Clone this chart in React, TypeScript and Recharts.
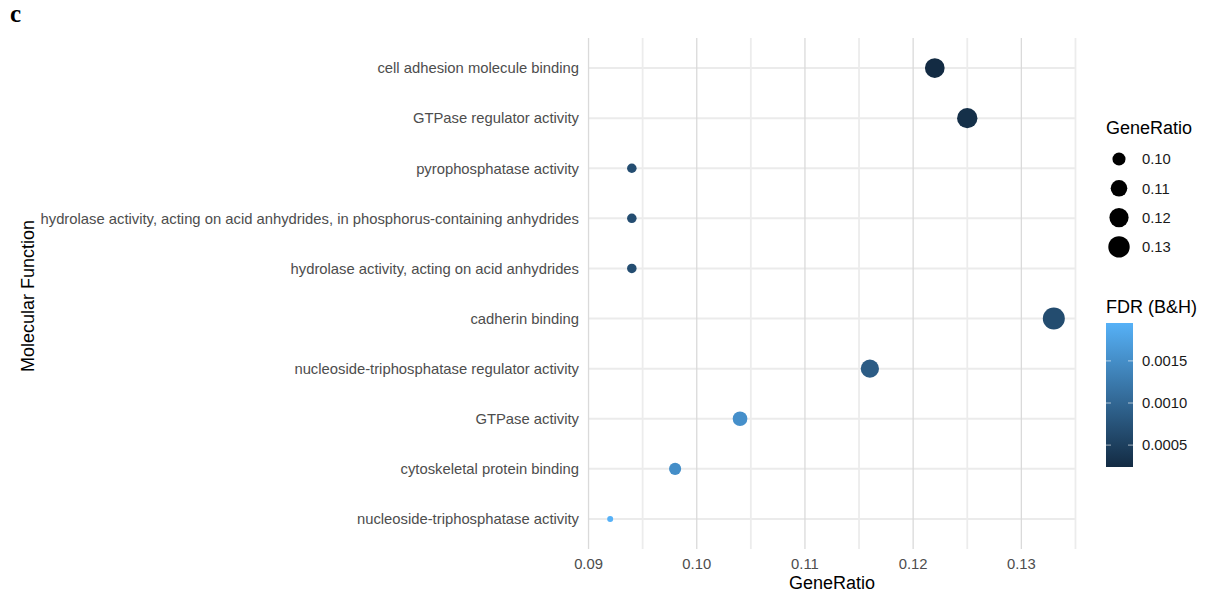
import React from 'react';
import { ScatterChart, Scatter, XAxis, YAxis, CartesianGrid, ReferenceLine, Label } from 'recharts';

// top to bottom, as in the figure
const terms = [
  'cell adhesion molecule binding',
  'GTPase regulator activity',
  'pyrophosphatase activity',
  'hydrolase activity, acting on acid anhydrides, in phosphorus-containing anhydrides',
  'hydrolase activity, acting on acid anhydrides',
  'cadherin binding',
  'nucleoside-triphosphatase regulator activity',
  'GTPase activity',
  'cytoskeletal protein binding',
  'nucleoside-triphosphatase activity',
];
const geneRatio = [0.122, 0.125, 0.094, 0.094, 0.094, 0.133, 0.116, 0.104, 0.098, 0.092];
const fdr = [0.00024, 0.0003, 0.00068, 0.00068, 0.00068, 0.00066, 0.00087, 0.00152, 0.0015, 0.00195];

const xTicks = [0.09, 0.1, 0.11, 0.12, 0.13];
const xMinorTicks = [0.095, 0.105, 0.115, 0.125, 0.135];
const sizeBreaks = [0.1, 0.11, 0.12, 0.13];
const fdrBreaks = [0.0005, 0.001, 0.0015];

const rows = terms.map((term, i) => ({ term, ratio: geneRatio[i], fdr: fdr[i] }));

const FONT = '"Liberation Sans", Arial, Helvetica, sans-serif';
const LOW = [0x13, 0x2b, 0x43];
const HIGH = [0x56, 0xb1, 0xf7];

const rMin = Math.min(...geneRatio);
const rMax = Math.max(...geneRatio);
const fMin = Math.min(...fdr);
const fMax = Math.max(...fdr);

// ggplot-style area scale: radius grows with sqrt of the rescaled value
function radiusOf(v: number) {
  const t = Math.max(0, (v - rMin) / (rMax - rMin));
  return 3 + 8 * Math.sqrt(t);
}

function colorOf(v: number) {
  const t = (v - fMin) / (fMax - fMin);
  const c = LOW.map((lo, k) => Math.round(lo + (HIGH[k] - lo) * t));
  return `rgb(${c[0]},${c[1]},${c[2]})`;
}

function Legends() {
  const barTop = 323;
  const barH = 144;
  const barX = 1106;
  const barW = 27;
  const yOf = (v: number) => barTop + barH - ((v - fMin) / (fMax - fMin)) * barH;
  return (
    <svg width={1205} height={595} style={{ position: 'absolute', left: 0, top: 0, pointerEvents: 'none' }}>
      <defs>
        <linearGradient id="fdrGrad" x1="0" y1="1" x2="0" y2="0">
          <stop offset="0%" stopColor={colorOf(fMin)} />
          <stop offset="50%" stopColor={colorOf((fMin + fMax) / 2)} />
          <stop offset="100%" stopColor={colorOf(fMax)} />
        </linearGradient>
      </defs>
      <text x={10} y={22} fontFamily='"Liberation Serif", "Times New Roman", serif' fontWeight="bold" fontSize={25}>c</text>

      <text x={1106} y={134} fontFamily={FONT} fontSize={18} fill="#000">GeneRatio</text>
      {sizeBreaks.map((v, i) => (
        <g key={v}>
          <circle cx={1119} cy={159 + i * 29.3} r={radiusOf(v)} fill="#000" />
          <text x={1142} y={159 + i * 29.3} dy="0.355em" fontFamily={FONT} fontSize={14.8} fill="#1a1a1a">{v.toFixed(2)}</text>
        </g>
      ))}

      <text x={1106} y={313} fontFamily={FONT} fontSize={18} fill="#000">FDR (B&amp;H)</text>
      <rect x={barX} y={barTop} width={barW} height={barH} fill="url(#fdrGrad)" />
      {fdrBreaks.map((v) => (
        <g key={v}>
          <line x1={barX} x2={barX + 5} y1={yOf(v)} y2={yOf(v)} stroke="#ffffff" strokeOpacity={0.6} strokeWidth={1} />
          <line x1={barX + barW - 5} x2={barX + barW} y1={yOf(v)} y2={yOf(v)} stroke="#ffffff" strokeOpacity={0.6} strokeWidth={1} />
          <text x={1142} y={yOf(v)} dy="0.355em" fontFamily={FONT} fontSize={14.8} fill="#1a1a1a">{v.toFixed(4)}</text>
        </g>
      ))}
    </svg>
  );
}

export default function App() {
  return (
    <div style={{ position: 'absolute', left: 0, top: 0, width: 1205, height: 595, background: '#fff', fontFamily: FONT }}>
      <ScatterChart width={1205} height={595} margin={{ top: 38, right: 129, bottom: 16, left: 0 }}>
        <CartesianGrid vertical={false} syncWithTicks stroke="#ebebeb" strokeWidth={2} />
        {xMinorTicks.map((v) => (
          <ReferenceLine key={v} x={v} stroke="#ececec" strokeWidth={1.8} />
        ))}
        <CartesianGrid horizontal={false} syncWithTicks stroke="#dadada" strokeWidth={1.3} />
        <XAxis
          type="number"
          dataKey="ratio"
          domain={[0.08995, 0.13505]}
          allowDataOverflow
          ticks={xTicks}
          tickFormatter={(v: number) => v.toFixed(2)}
          axisLine={false}
          tickLine={false}
          tickMargin={3}
          height={30}
          tick={{ fontSize: 14.8, fill: '#4d4d4d', fontFamily: FONT }}
        >
          <Label value="GeneRatio" position="bottom" offset={-3} style={{ fontSize: 18, fill: '#000', fontFamily: FONT }} />
        </XAxis>
        <YAxis
          type="category"
          dataKey="term"
          allowDuplicatedCategory={false}
          reversed
          width={588}
          padding={{ top: 5, bottom: 5 }}
          interval={0}
          axisLine={false}
          tickLine={false}
          tickMargin={3}
          tick={{ fontSize: 14.8, fill: '#4d4d4d', fontFamily: FONT }}
        >
          <Label
            content={() => (
              <text x={28} y={296} transform="rotate(-90 28 296)" textAnchor="middle" dominantBaseline="central" fontSize={18} fontFamily={FONT} fill="#000">
                Molecular Function
              </text>
            )}
          />
        </YAxis>
        <Scatter
          data={rows}
          isAnimationActive={false}
          shape={(p: any) => <circle cx={p.cx} cy={p.cy} r={radiusOf(p.payload.ratio)} fill={colorOf(p.payload.fdr)} />}
        />
      </ScatterChart>
      <Legends />
    </div>
  );
}
